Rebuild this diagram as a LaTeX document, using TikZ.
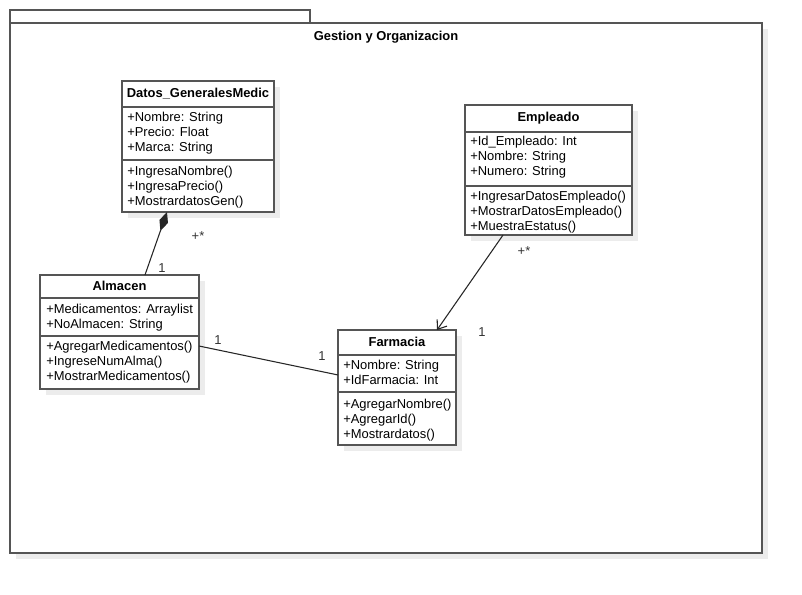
\documentclass[tikz,border=0pt]{standalone}
\usepackage{fontspec}
\setmainfont{Liberation Sans}
\usetikzlibrary{arrows.meta, shadows}
\definecolor{LineGrey}{RGB}{85,85,85}
\definecolor{ShadowGrey}{RGB}{236,236,236}

\begin{document}
\begin{tikzpicture}[
  x=0.75pt, y=-0.75pt,
  font=\fontsize{9.7}{11.25}\selectfont,
  box/.style={draw=LineGrey, line width=1.1pt, fill=white, anchor=north west, inner sep=0pt, outer sep=0pt},
  shadowbox/.style={box, drop shadow={shadow xshift=4.5pt, shadow yshift=-4.5pt, fill=ShadowGrey, opacity=1}},
  divider/.style={draw=LineGrey, line width=1.1pt},
  classname/.style={font=\fontsize{9.7}{11.25}\selectfont\bfseries},
  members/.style={anchor=north west, inner sep=0pt, align=left},
  mult/.style={inner sep=0pt, text=black!80},
  link/.style={draw=black!85, line width=0.8pt}
]
\useasboundingbox (0,0) rectangle (802,594);

% Package: Gestion y Organizacion
\node[box, minimum width=225pt, minimum height=9.75pt] (pkgtab) at (10,10) {};
\node[shadowbox, minimum width=564pt, minimum height=397.5pt] (pkg) at (10,23) {};
\node[classname] (pkgtitle) at (386,37) {Gestion y Organizacion};

% Class: Datos_GeneralesMedic
\node[shadowbox, minimum width=114pt, minimum height=98.25pt] (dgm) at (122,81) {};
\node[classname] (dgmname) at (198,94) {Datos\_GeneralesMedic};
\draw[divider] (dgm.west |- 0,107) -- (dgm.east |- 0,107);
\draw[divider] (dgm.west |- 0,160) -- (dgm.east |- 0,160);
\node[members] (dgmattr) at (127,112) {+Nombre: String\\+Precio: Float\\+Marca: String};
\node[members] (dgmops) at (127,166) {+IngresaNombre()\\+IngresaPrecio()\\+MostrardatosGen()};

% Class: Empleado
\node[shadowbox, minimum width=125.25pt, minimum height=97.5pt] (emp) at (465,105) {};
\node[classname] (empname) at (548.5,118) {Empleado};
\draw[divider] (emp.west |- 0,132) -- (emp.east |- 0,132);
\draw[divider] (emp.west |- 0,186) -- (emp.east |- 0,186);
\node[members] (empattr) at (470,136) {+Id\_Empleado: Int\\+Nombre: String\\+Numero: String};
\node[members] (empops) at (470,191) {+IngresarDatosEmpleado()\\+MostrarDatosEmpleado()\\+MuestraEstatus()};

% Class: Almacen
\node[shadowbox, minimum width=119.25pt, minimum height=85.5pt] (alm) at (40,275) {};
\node[classname] (almname) at (119.5,286) {Almacen};
\draw[divider] (alm.west |- 0,298) -- (alm.east |- 0,298);
\draw[divider] (alm.west |- 0,336) -- (alm.east |- 0,336);
\node[members] (almattr) at (46,303.5) {+Medicamentos: Arraylist\\+NoAlmacen: String};
\node[members] (almops) at (46,340.5) {+AgregarMedicamentos()\\+IngreseNumAlma()\\+MostrarMedicamentos()};

% Class: Farmacia
\node[shadowbox, minimum width=88.5pt, minimum height=86.25pt] (farm) at (338,330) {};
\node[classname] (farmname) at (397,342) {Farmacia};
\draw[divider] (farm.west |- 0,355) -- (farm.east |- 0,355);
\draw[divider] (farm.west |- 0,392) -- (farm.east |- 0,392);
\node[members] (farmattr) at (343,359.5) {+Nombre: String\\+IdFarmacia: Int};
\node[members] (farmops) at (343,399) {+AgregarNombre()\\+AgregarId()\\+Mostrardatos()};

% Relations
\draw[link, {Diamond[length=15pt, width=6.75pt]}-] ([xshift=-23.25pt]dgm.south) -- ([xshift=19.1pt]alm.north);
\draw[link, -{Straight Barb[length=6pt, width=9pt]}] ([xshift=-34.1pt]emp.south) -- ([xshift=30pt]farm.north);
\draw[link] ([yshift=-10.5pt]alm.east) -- ([yshift=9.4pt]farm.west);

% Multiplicities
\node[mult] (m1) at (198,236) {+*};
\node[mult] (m2) at (162,268) {1};
\node[mult] (m3) at (524,251) {+*};
\node[mult] (m4) at (482,332) {1};
\node[mult] (m5) at (218,340) {1};
\node[mult] (m6) at (322,356) {1};
\end{tikzpicture}
\end{document}
